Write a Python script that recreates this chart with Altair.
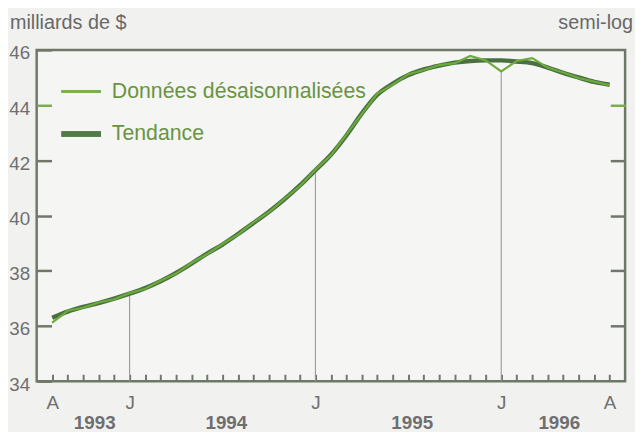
import altair as alt
import pandas as pd

# ---- data -------------------------------------------------------------
months = [f"{y}-{m:02d}" for y in range(1993, 1997) for m in range(1, 13)]
months = [m for m in months if "1993-08" <= m <= "1996-08"]

trend = [36.30, 36.52, 36.69, 36.83, 36.99, 37.17, 37.37, 37.62, 37.92, 38.26,
         38.62, 38.95, 39.33, 39.73, 40.14, 40.59, 41.09, 41.64, 42.20, 42.90,
         43.70, 44.38, 44.78, 45.09, 45.29, 45.43, 45.54, 45.60, 45.62, 45.62,
         45.58, 45.52, 45.36, 45.17, 45.00, 44.84, 44.74]

sa = [36.12, 36.55, 36.66, 36.85, 36.97, 37.19, 37.35, 37.64, 37.90, 38.28,
      38.60, 38.97, 39.31, 39.75, 40.12, 40.61, 41.07, 41.66, 42.18, 42.93,
      43.68, 44.42, 44.74, 45.12, 45.27, 45.45, 45.52, 45.78, 45.62, 45.22,
      45.60, 45.70, 45.36, 45.18, 44.98, 44.85, 44.72]

label_months = ["1993-08", "1994-01", "1995-01", "1996-01", "1996-08"]
label_text = ["A", "J", "J", "J", "A"]
years = ["1993", "1994", "1995", "1996"]
jan_months = ["1994-01", "1995-01", "1996-01"]
y_ticks = [34, 36, 38, 40, 42, 44, 46]
y_min, y_max = 34, 46
legend_labels = ["Données désaisonnalisées", "Tendance"]

# ---- derived tables ---------------------------------------------------
idx = {m: i for i, m in enumerate(months)}
df = pd.DataFrame({"i": list(range(len(months))), "month": months,
                   "trend": trend, "sa": sa})
rules_df = pd.DataFrame({"i": [idx[m] for m in jan_months],
                         "v": [sa[idx[m]] for m in jan_months],
                         "lo": [y_min] * len(jan_months)})
year_mid = []
for y in years:
    ms = [i for i, m in enumerate(months) if m.startswith(y)]
    end = ms[-1] + 1 if ms[-1] + 1 < len(months) else ms[-1]
    year_mid.append((ms[0] + end) / 2 + 0.25)
years_df = pd.DataFrame({"year": years, "x": year_mid})

label_idx = [idx[m] for m in label_months]
expr = "''"
for v, t in reversed(list(zip(label_idx, label_text))):
    expr = f"datum.value == {v} ? '{t}' : ({expr})"

W, H = 595, 335
FONT = "Liberation Sans"
AX = "#6d7869"
TXT = "#6f6f6f"
LIGHT = "#6aab3c"
DARK = "#4b6f41"
LEG_TXT = "#6a9444"

xs = alt.Scale(domain=[-1, len(months)], nice=False, zero=False)
ys = alt.Scale(domain=[y_min, y_max], nice=False, zero=False)

tick_color = {"condition": {"test": "datum.value === 44", "value": "#7aae4a"},
              "value": AX}

base = alt.Chart(df)

rules = alt.Chart(rules_df).mark_rule(color="#939d90", strokeWidth=1.1).encode(
    x=alt.X("i:Q", scale=xs, axis=None),
    y=alt.Y("lo:Q", scale=ys, axis=None),
    y2="v:Q",
)

trend_line = base.mark_line(color=DARK, strokeWidth=4.5, interpolate="monotone").encode(
    x=alt.X("i:Q", scale=xs, title=None,
            axis=alt.Axis(orient="bottom", values=label_idx, labelExpr=expr,
                          ticks=False, tickSize=0, domain=False, grid=False,
                          labelPadding=13, labelFontSize=19, labelFont=FONT,
                          labelColor=TXT, labelFlush=False, labelOverlap=False)),
    y=alt.Y("trend:Q", scale=ys, title=None,
            axis=alt.Axis(orient="right", offset=-W, values=y_ticks,
                          tickSize=15, tickWidth=2.5, tickColor=tick_color,
                          labelPadding=-22, labelAlign="right",
                          labelBaseline="middle", labelOffset=3,
                          domain=False, grid=False, labelFontSize=19,
                          labelFont=FONT, labelColor=TXT, labelFlush=False,
                          labelOverlap=False)),
)

sa_line = base.mark_line(color=LIGHT, strokeWidth=2.2).encode(
    x=alt.X("i:Q", scale=xs, title=None,
            axis=alt.Axis(orient="top", offset=-H, values=list(range(len(months))),
                          tickSize=7, tickWidth=2, tickColor=AX, labels=False,
                          domain=False, grid=False)),
    y=alt.Y("sa:Q", scale=ys, title=None,
            axis=alt.Axis(orient="left", offset=-W, values=y_ticks[1:-1],
                          tickSize=15, tickWidth=2.5, tickColor=tick_color,
                          labels=False, domain=False, grid=False)),
)

year_text = alt.Chart(years_df).mark_text(
    font=FONT, fontSize=19, fontWeight="bold", color=TXT, baseline="alphabetic"
).encode(
    x=alt.X("x:Q", scale=xs, axis=None),
    y=alt.value(H + 48),
    text="year:N",
)

leg_df = pd.DataFrame({"label": legend_labels})
leg1_line = alt.Chart(leg_df).mark_rule(color="#7cb04c", strokeWidth=3).encode(
    x=alt.value(25), x2=alt.value(65), y=alt.value(42))
leg2_line = alt.Chart(leg_df).mark_rule(color="#527a48", strokeWidth=5.5).encode(
    x=alt.value(25), x2=alt.value(65), y=alt.value(85))
leg1_text = alt.Chart(leg_df).transform_filter(
    alt.datum.label == legend_labels[0]).mark_text(
    font=FONT, fontSize=21.5, color=LEG_TXT, align="left", baseline="middle"
).encode(x=alt.value(76), y=alt.value(43), text="label:N")
leg2_text = alt.Chart(leg_df).transform_filter(
    alt.datum.label == legend_labels[1]).mark_text(
    font=FONT, fontSize=21.5, color=LEG_TXT, align="left", baseline="middle"
).encode(x=alt.value(76), y=alt.value(85), text="label:N")

title_df = pd.DataFrame({"t": ["milliards de $", "semi-log"]})
title_left = alt.Chart(title_df).transform_filter(alt.datum.t == "milliards de $").mark_text(
    font=FONT, fontSize=20, color="#686868", align="left", baseline="middle"
).encode(x=alt.value(-27), y=alt.value(-27), text="t:N")
title_right = alt.Chart(title_df).transform_filter(alt.datum.t == "semi-log").mark_text(
    font=FONT, fontSize=20, color="#686868", align="right", baseline="middle"
).encode(x=alt.value(W + 8), y=alt.value(-27), text="t:N")

chart = alt.layer(
    rules, trend_line, sa_line, year_text,
    leg1_line, leg2_line, leg1_text, leg2_text, title_left, title_right,
).resolve_axis(x="independent", y="independent").properties(
    width=W, height=H, autosize="none",
    padding={"left": 29, "top": 40, "right": 10, "bottom": 49},
    background="#f1f1ef",
).configure_view(stroke=AX, strokeWidth=2.5, fill="#f5f5f3")

chart.save("out.html", embed_options={"renderer": "svg", "actions": False})
